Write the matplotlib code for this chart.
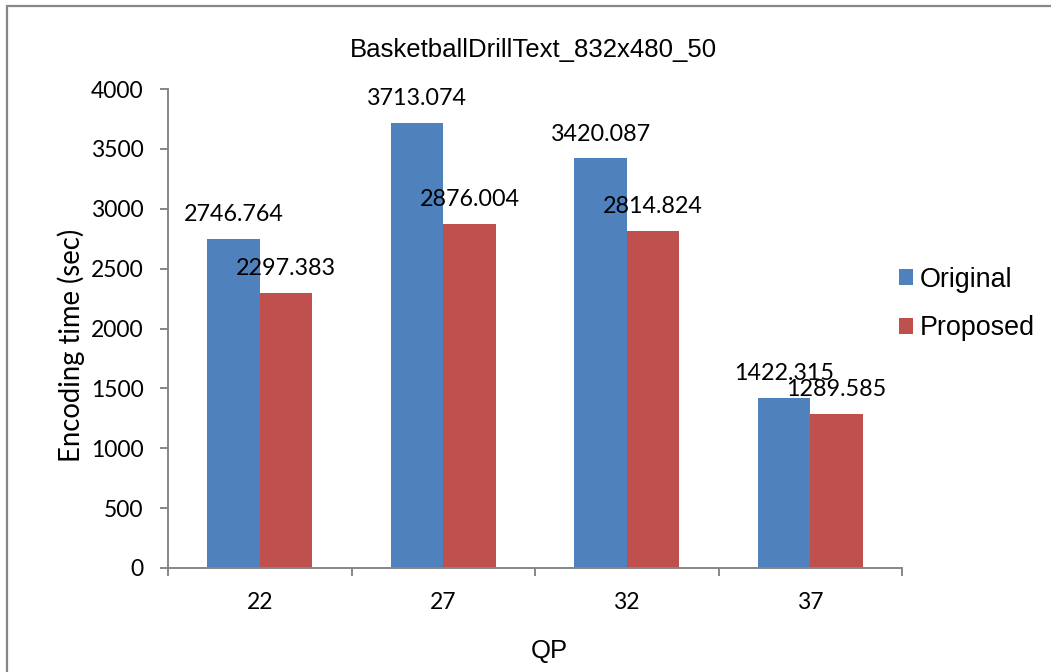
import matplotlib
matplotlib.use("Agg")
import matplotlib.pyplot as plt
from matplotlib.patches import Rectangle, Patch
import numpy as np

# Encoding time per QP for the two encoders
qp_labels = ["22", "27", "32", "37"]
original = [2746.764, 3713.074, 3420.087, 1422.315]
proposed = [2297.383, 2876.004, 2814.824, 1289.585]
series_names = ["Original", "Proposed"]
y_ticks = [0, 500, 1000, 1500, 2000, 2500, 3000, 3500, 4000]

title = "BasketballDrillText_832x480_50"
x_label = "QP"
y_label = "Encoding time (sec)"

blue = "#4F81BD"
red = "#C0504D"
axis_grey = "#868686"
num_font = "Lato"
txt_font = "Liberation Sans"

W, H = 1051, 672
fig = plt.figure(figsize=(W / 100, H / 100), dpi=100)
ax = fig.add_axes([168 / W, 1 - 568 / H, (902 - 168) / W, (568 - 89) / H])

n = len(qp_labels)
x = np.arange(n)
bw = 1 / 3.5  # Excel-style 150% gap width

b1 = ax.bar(x - bw / 2, original, bw, color=blue, edgecolor="none", label=series_names[0])
b2 = ax.bar(x + bw / 2, proposed, bw, color=red, edgecolor="none", label=series_names[1])

for bars, vals in ((b1, original), (b2, proposed)):
    for rect, v in zip(bars, vals):
        ax.annotate(f"{v:.3f}", (rect.get_x() + rect.get_width() / 2, v),
                    xytext=(0, 10), textcoords="offset points",
                    ha="center", va="bottom", fontsize=16.8, family=num_font,
                    color="black")

ax.set_xlim(-0.5, n - 0.5)
ax.set_ylim(0, 4000)
ax.set_yticks(y_ticks)
ax.set_yticklabels([str(t) for t in y_ticks])

# Major x ticks sit on category boundaries, labels on the category centres
ax.set_xticks(np.arange(n + 1) - 0.5)
ax.set_xticklabels([""] * (n + 1))
ax.set_xticks(x, minor=True)
ax.set_xticklabels(qp_labels, minor=True)

for side in ("top", "right"):
    ax.spines[side].set_visible(False)
for side in ("left", "bottom"):
    ax.spines[side].set_color(axis_grey)
    ax.spines[side].set_linewidth(1.4)

ax.tick_params(axis="y", which="major", direction="out", length=5.5, width=1.4,
               color=axis_grey, pad=12, labelsize=16.5)
ax.tick_params(axis="x", which="major", direction="out", length=5.5, width=1.4,
               color=axis_grey)
ax.tick_params(axis="x", which="minor", length=0, pad=17, labelsize=16.5)
for lbl in ax.get_yticklabels() + ax.get_xticklabels(minor=True):
    lbl.set_family(num_font)

fig.text(533 / W, 1 - 50 / H, title, ha="center", va="center",
         fontsize=18.5, family=txt_font)
fig.text(549 / W, 1 - 651 / H, x_label, ha="center", va="center",
         fontsize=18.5, family=txt_font)
fig.text(71 / W, 1 - 345 / H, y_label, ha="center", va="center", rotation=90,
         fontsize=19.8, family=num_font)

handles = [Patch(facecolor=blue, edgecolor="none"), Patch(facecolor=red, edgecolor="none")]
fig.legend(handles, series_names, loc="center left",
           bbox_to_anchor=(899 / W, 1 - 304 / H), frameon=False,
           prop={"family": txt_font, "size": 19.4},
           handlelength=0.52, handleheight=0.52, handletextpad=0.25,
           labelspacing=0.85, borderpad=0, borderaxespad=0)

# Chart-area border
fig.patches.append(Rectangle((6.5 / W, -0.05), 1.1, 1 - 5.5 / H + 0.05,
                             transform=fig.transFigure, fill=False,
                             edgecolor="#878787", linewidth=1.6))

fig.savefig("out.png", dpi=100)
